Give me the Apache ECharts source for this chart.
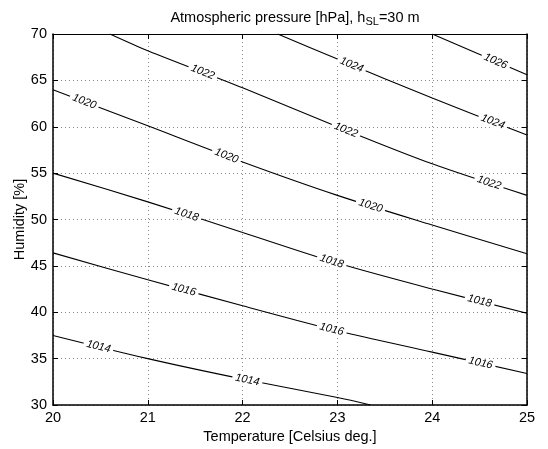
<!DOCTYPE html>
<html>
<head>
<meta charset="utf-8">
<script src="https://cdn.jsdelivr.net/npm/echarts@6/dist/echarts.min.js"></script>
<style>
html,body{margin:0;padding:0;background:#fff}
#chart{width:548px;height:449px}
</style>
</head>
<body>
<div id="chart"></div>
<script>
// contour levels and the points [temperature, humidity]
var levels = [1014, 1016, 1018, 1020, 1022, 1024, 1026];
var line1014 = [[20, 37.5], [21, 35.0], [22, 32.8], [23, 30.8], [23.35, 30]];
var line1016 = [[20, 46.4], [21, 43.5], [22, 40.7], [23, 38.0], [24, 35.7], [25, 33.4]];
var line1018 = [[20, 55.0], [21, 51.9], [22, 48.6], [23, 45.3], [24, 42.5], [25, 39.9]];
var line1020 = [[20, 64.0], [21, 60.1], [22, 56.2], [23, 52.6], [24, 49.4], [25, 46.3]];
var line1022 = [[20.6, 70], [21, 68.2], [22, 64.2], [23, 60.0], [24, 56.0], [25, 52.6]];
var line1024 = [[22.37, 70], [23, 67.3], [24, 63.1], [25, 59.1]];
var line1026 = [[24.0, 70], [25, 65.6]];
var lines = [line1014, line1016, line1018, line1020, line1022, line1024, line1026];

// where the inline labels sit (temperature), per level
var labelX1014 = [20.48, 22.05];
var labelX1016 = [21.38, 22.94, 24.51];
var labelX1018 = [21.41, 22.94, 24.5];
var labelX1020 = [20.33, 21.83, 23.35];
var labelX1022 = [21.58, 23.09, 24.6];
var labelX1024 = [23.15, 24.64];
var labelX1026 = [24.67];
var labelXs = [labelX1014, labelX1016, labelX1018, labelX1020, labelX1022, labelX1024, labelX1026];

var xTicks = [20, 21, 22, 23, 24, 25];
var yTicks = [30, 35, 40, 45, 50, 55, 60, 65, 70];

var FONT = '"Liberation Sans", Arial, Helvetica, sans-serif';

var labelData = [];
for (var i = 0; i < levels.length; i++) {
  for (var j = 0; j < labelXs[i].length; j++) {
    labelData.push([labelXs[i][j], i]);
  }
}

function segmentAt(line, x) {
  for (var k = 0; k < line.length - 1; k++) {
    if (x >= line[k][0] && x <= line[k + 1][0]) return k;
  }
  return line.length - 2;
}

function renderLabel(params, api) {
  var d = labelData[params.dataIndex];
  var line = lines[d[1]];
  var k = segmentAt(line, d[0]);
  var a = line[k], b = line[k + 1];
  var t = (d[0] - a[0]) / (b[0] - a[0]);
  var p0 = api.coord(a), p1 = api.coord(b);
  var px = p0[0] + (p1[0] - p0[0]) * t;
  var py = p0[1] + (p1[1] - p0[1]) * t;
  var ang = Math.atan2(p1[1] - p0[1], p1[0] - p0[0]);
  return {
    type: 'text',
    x: px,
    y: py,
    rotation: -ang,
    style: {
      text: String(levels[d[1]]),
      x: 0, y: 0,
      align: 'center',
      verticalAlign: 'middle',
      font: 'italic 11px ' + FONT,
      fill: '#000',
      backgroundColor: '#fff',
      padding: [0, 3]
    }
  };
}

var series = [];
for (var i = 0; i < levels.length; i++) {
  series.push({
    type: 'line',
    name: String(levels[i]),
    data: lines[i],
    showSymbol: false,
    smooth: 0.3,
    silent: true,
    lineStyle: {color: '#000', width: 1.1},
    z: 3
  });
}
series.push({
  type: 'custom',
  data: labelData,
  renderItem: renderLabel,
  silent: true,
  z: 5
});

var chart = echarts.init(document.getElementById('chart'));
chart.setOption({
  backgroundColor: '#fff',
  animation: false,
  title: {
    text: '{a|Atmospheric pressure [hPa], h}{s|SL}{a|=30 m}',
    left: 290,
    textAlign: 'center',
    top: 3,
    textStyle: {
      fontWeight: 'normal',
      rich: {
        a: {fontFamily: FONT, fontSize: 14.5, color: '#000', fontWeight: 'normal'},
        s: {fontFamily: FONT, fontSize: 11, color: '#000', fontWeight: 'normal', padding: [8, 0, 0, 0]}
      }
    }
  },
  grid: {left: 53, right: 21, top: 34, bottom: 44, containLabel: false, outerBoundsMode: 'none'},
  xAxis: [{
    type: 'value', min: 20, max: 25, interval: 1,
    name: 'Temperature [Celsius deg.]', nameLocation: 'middle', nameGap: 24, nameMoveOverlap: false,
    nameTextStyle: {fontFamily: FONT, fontSize: 14.5, color: '#000'},
    axisLine: {lineStyle: {color: '#000', width: 1.5}},
    axisTick: {inside: true, length: 5, lineStyle: {color: '#000'}},
    axisLabel: {fontFamily: FONT, fontSize: 14.5, color: '#000', margin: 5},
    splitLine: {show: true, lineStyle: {color: '#888', type: [1, 3], width: 1}}
  }, {
    type: 'value', min: 20, max: 25, interval: 1, position: 'top',
    axisLine: {lineStyle: {color: '#000', width: 1}},
    axisTick: {inside: true, length: 5, lineStyle: {color: '#000'}},
    axisLabel: {show: false},
    splitLine: {show: false}
  }],
  yAxis: [{
    type: 'value', min: 30, max: 70, interval: 5,
    name: 'Humidity [%]', nameLocation: 'middle', nameGap: 26, nameMoveOverlap: false,
    nameTextStyle: {fontFamily: FONT, fontSize: 14.5, color: '#000'},
    axisLine: {show: true, lineStyle: {color: '#000', width: 1.5}},
    axisTick: {show: true, inside: true, length: 5, lineStyle: {color: '#000'}},
    axisLabel: {fontFamily: FONT, fontSize: 14.5, color: '#000', margin: 6},
    splitLine: {show: true, lineStyle: {color: '#888', type: [1, 3], width: 1}}
  }, {
    type: 'value', min: 30, max: 70, interval: 5, position: 'right',
    axisLine: {show: true, lineStyle: {color: '#000', width: 1.5}},
    axisTick: {show: true, inside: true, length: 5, lineStyle: {color: '#000'}},
    axisLabel: {show: false},
    splitLine: {show: false}
  }],
  series: series
});
</script>
</body>
</html>
